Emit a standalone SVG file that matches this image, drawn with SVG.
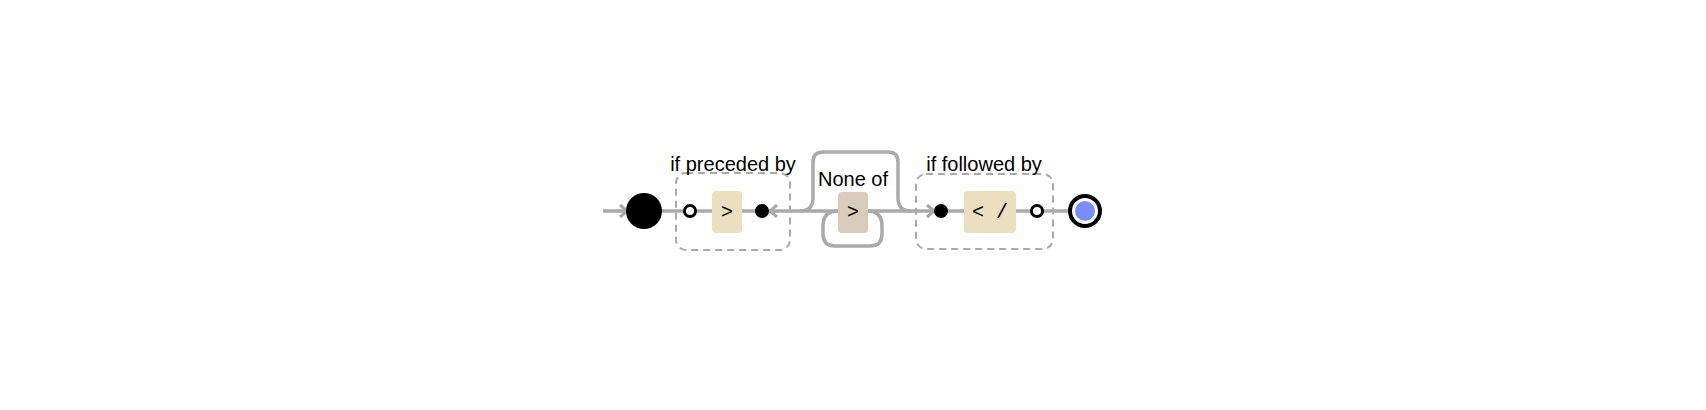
<svg xmlns="http://www.w3.org/2000/svg" width="1706" height="410" viewBox="0 0 1706 410">
<style>
.line{fill:none;stroke:#aaaaaa;stroke-width:3.5;}
.dash{fill:none;stroke:#aaaaaa;stroke-width:2;stroke-dasharray:7 5;}
.lbl{font-family:"Liberation Sans",Arial,sans-serif;font-size:20px;fill:#000;}
.chr{font-family:"Liberation Mono","Courier New",monospace;font-size:20px;fill:#000;}
.head{fill:none;stroke:#aaaaaa;stroke-width:3;stroke-linecap:butt;}
</style>
<rect width="1706" height="410" fill="#ffffff"/>
<g id="connectors">
<path class="line" d="M603 211H627"/>
<path class="head" d="M620 205L627 211L620 217"/>
<path class="line" d="M661 211H684"/>
<path class="line" d="M696 211H712"/>
<path class="line" d="M742 211H756"/>
<path class="line" d="M769 211H838"/>
<path class="head" d="M777 205L770 211L777 217"/>
<path class="line" d="M800 211q13 0 13 -13V162q0 -10 10 -10H888q10 0 10 10V198q0 13 13 13"/>
<path class="line" d="M838 211q-15 0 -15 15V234q0 12 12 12H870q12 0 12 -12V226q0 -15 -15 -15"/>
<path class="line" d="M868 211H934"/>
<path class="head" d="M927 205L934 211L927 217"/>
<path class="line" d="M948 211H964"/>
<path class="line" d="M1016 211H1031"/>
<path class="line" d="M1043 211H1068"/>
</g>
<g id="start"><circle cx="644" cy="211" r="18" fill="#000"/></g>
<g id="lookbehind">
<rect class="dash" x="676" y="173" width="114" height="77" rx="10"/>
<text class="lbl" x="733" y="171" text-anchor="middle">if preceded by</text>
<circle cx="690" cy="211" r="5.5" fill="#fff" stroke="#000" stroke-width="3"/>
<g id="lb-literal"><rect x="712" y="191" width="30" height="42" rx="4" fill="#ecdfc0"/>
<text class="chr" x="727" y="218" text-anchor="middle">&gt;</text></g>
<circle cx="762" cy="211" r="7" fill="#000"/>
</g>
<g id="noneof">
<text class="lbl" x="853" y="186" text-anchor="middle">None of</text>
<rect x="838" y="192" width="30" height="41" rx="4" fill="#d9cbb9"/>
<text class="chr" x="853" y="218" text-anchor="middle">&gt;</text>
</g>
<g id="lookahead">
<rect class="dash" x="916" y="174" width="137" height="75" rx="10"/>
<text class="lbl" x="984" y="171" text-anchor="middle">if followed by</text>
<circle cx="941" cy="211" r="7" fill="#000"/>
<g id="la-literal"><rect x="964" y="191" width="52" height="42" rx="4" fill="#ecdfc0"/>
<text class="chr" x="990" y="218" text-anchor="middle">&lt; /</text></g>
<circle cx="1037" cy="211" r="5.5" fill="#fff" stroke="#000" stroke-width="3"/>
</g>
<g id="end">
<circle cx="1085" cy="211" r="15" fill="#fff" stroke="#000" stroke-width="4"/>
<circle cx="1085" cy="211" r="10" fill="#7b8cf5"/>
</g>
</svg>
